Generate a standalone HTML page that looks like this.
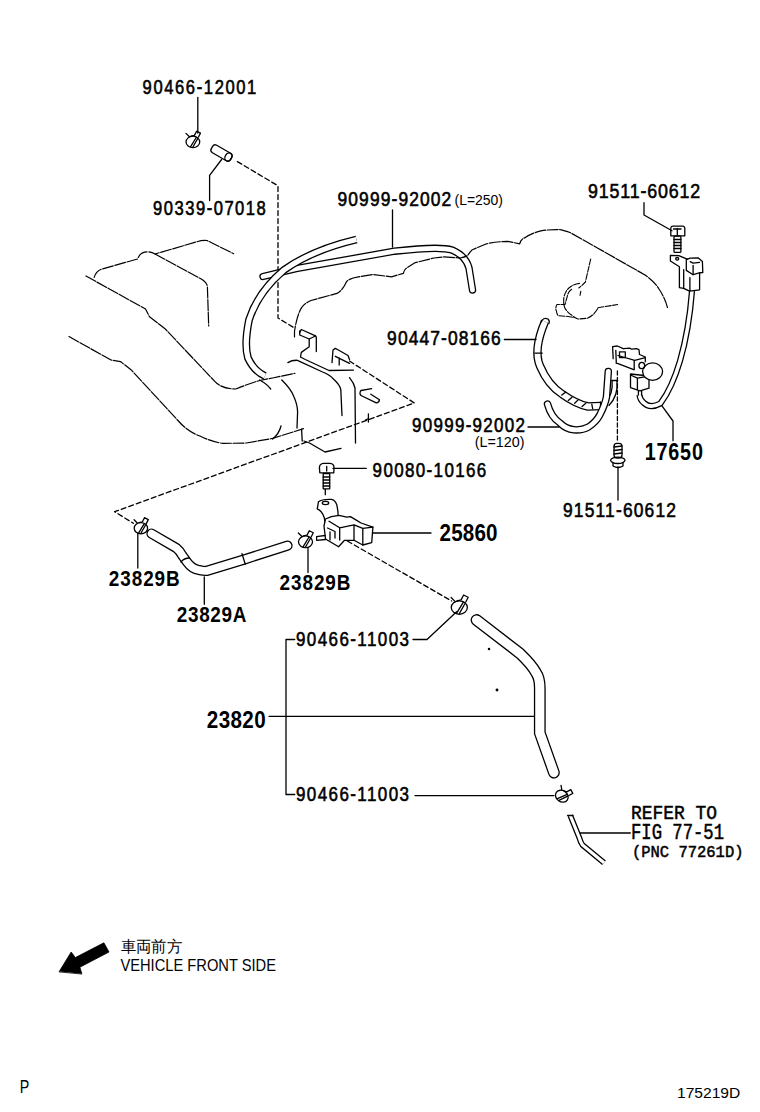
<!DOCTYPE html>
<html><head><meta charset="utf-8"><style>
html,body{margin:0;padding:0;background:#fff;width:760px;height:1112px;overflow:hidden}
svg{display:block}
.tn{font-family:"Liberation Sans",sans-serif;fill:#000;stroke:#000;stroke-width:0.6}
.tb{font-family:"Liberation Sans",sans-serif;font-weight:bold;fill:#000}
.m{font-family:"Liberation Mono",monospace;fill:#000;stroke:#000;stroke-width:0.5}
.s{font-family:"Liberation Sans",sans-serif;fill:#000}
</style></head><body>
<svg width="760" height="1112" viewBox="0 0 760 1112">
<rect width="760" height="1112" fill="#fff"/>
<g id="labels">
<text class="tn" transform="translate(142.6,93.5) scale(0.85,1)" x="0" y="0" font-size="19.5" textLength="133.76" lengthAdjust="spacing">90466-12001</text>
<text class="tn" transform="translate(153,214.5) scale(0.85,1)" x="0" y="0" font-size="19.5" textLength="132.71" lengthAdjust="spacing">90339-07018</text>
<text class="tn" transform="translate(337.5,205.5) scale(0.85,1)" x="0" y="0" font-size="20.5" textLength="133.88" lengthAdjust="spacing">90999-92002</text>
<text class="s" x="454.5" y="204.7" font-size="14.2" textLength="48.5" lengthAdjust="spacingAndGlyphs">(L=250)</text>
<text class="tn" transform="translate(587.9,197.9) scale(0.85,1)" x="0" y="0" font-size="21" textLength="132.12" lengthAdjust="spacing">91511-60612</text>
<text class="tn" transform="translate(387.1,344.8) scale(0.85,1)" x="0" y="0" font-size="20.5" textLength="133.76" lengthAdjust="spacing">90447-08166</text>
<text class="tn" transform="translate(412,431.7) scale(0.85,1)" x="0" y="0" font-size="20" textLength="132.94" lengthAdjust="spacing">90999-92002</text>
<text class="s" x="474.7" y="447" font-size="14.5" textLength="49.8" lengthAdjust="spacingAndGlyphs">(L=120)</text>
<text class="tb" transform="translate(644.7,459.8) scale(0.86,1)" x="0" y="0" font-size="23" textLength="67.67" lengthAdjust="spacing">17650</text>
<text class="tn" transform="translate(372.6,477.0) scale(0.85,1)" x="0" y="0" font-size="20" textLength="133.76" lengthAdjust="spacing">90080-10166</text>
<text class="tn" transform="translate(563,516.8) scale(0.85,1)" x="0" y="0" font-size="20.5" textLength="132.94" lengthAdjust="spacing">91511-60612</text>
<text class="tb" transform="translate(439.5,541.2) scale(0.86,1)" x="0" y="0" font-size="24" textLength="67.56" lengthAdjust="spacing">25860</text>
<text class="tb" transform="translate(108.8,585.8) scale(0.86,1)" x="0" y="0" font-size="22" textLength="82.44" lengthAdjust="spacing">23829B</text>
<text class="tb" transform="translate(279.5,590.3) scale(0.86,1)" x="0" y="0" font-size="22" textLength="82.56" lengthAdjust="spacing">23829B</text>
<text class="tb" transform="translate(176.8,622) scale(0.86,1)" x="0" y="0" font-size="22" textLength="80.81" lengthAdjust="spacing">23829A</text>
<text class="tn" transform="translate(296,645.8) scale(0.85,1)" x="0" y="0" font-size="20" textLength="132.94" lengthAdjust="spacing">90466-11003</text>
<text class="tb" transform="translate(206.8,727.7) scale(0.86,1)" x="0" y="0" font-size="24" textLength="68.49" lengthAdjust="spacing">23820</text>
<text class="tn" transform="translate(296,801.3) scale(0.85,1)" x="0" y="0" font-size="20" textLength="132.94" lengthAdjust="spacing">90466-11003</text>
<text class="m" x="631" y="819" font-size="20" textLength="86" lengthAdjust="spacingAndGlyphs">REFER TO</text>
<text class="m" x="631" y="838.7" font-size="21.5" textLength="93" lengthAdjust="spacingAndGlyphs">FIG 77-51</text>
<text class="m" x="632" y="857" font-size="17" textLength="111.5" lengthAdjust="spacingAndGlyphs">(PNC 77261D)</text>
<text class="s" x="120.6" y="952" font-size="16" textLength="61.4" lengthAdjust="spacingAndGlyphs">車両前方</text>
<text class="s" x="120.4" y="970.6" font-size="16.6" textLength="155.6" lengthAdjust="spacingAndGlyphs">VEHICLE FRONT SIDE</text>
<text class="s" x="19.7" y="1093.4" font-size="18" textLength="9.5" lengthAdjust="spacingAndGlyphs">P</text>
<text class="s" x="677" y="1098" font-size="15.5" textLength="63.3" lengthAdjust="spacingAndGlyphs">175219D</text>
</g>
<g id="shapes" fill="none" stroke="#000" stroke-width="1.3" stroke-linecap="round" stroke-linejoin="round">

<!-- top: clamp 90466-12001 and pipe 90339 -->
<line x1="197.8" y1="97.5" x2="197.8" y2="133"/>


<g transform="translate(221.5,153) rotate(30)">
<rect x="-11" y="-4.3" width="22" height="8.6" rx="3"/>
<ellipse cx="8" cy="0" rx="3.3" ry="4.3"/>
</g>
<polyline points="221.6,159.5 209.6,175.3 209.6,200.5"/>
<polyline stroke-dasharray="5,3" points="237.4,161.6 278,185.8 278,318 294.5,328"/>

<!-- left engine body -->
<path stroke-dasharray="11,1.6" stroke-width="1.2" d="M94.2,277.4 Q96,271 102,269 L137.6,259 Q140,252 147,251.8 Q152,252 155,254 L196.8,241.8 Q202,240 207,240.5 L233.7,253.7"/>
<path stroke-dasharray="11,1.6" stroke-width="1.2" d="M155,254 L200.8,278.7 Q207,282 207.4,287 L208.7,326"/>
<!-- long tube h2 (behind) -->
<!-- hose h1 L=250 -->
<path d="M263,276.5 L296,268.7 L394.5,251.2 Q440,246 452,250 Q466,256 469,268 L472.5,290" stroke-width="7.4" stroke-linecap="round" stroke-linejoin="round"/><path d="M263,276.5 L296,268.7 L394.5,251.2 Q440,246 452,250 Q466,256 469,268 L472.5,290" stroke="#fff" stroke-width="4.8" stroke-linecap="round" stroke-linejoin="round"/>
<path d="M356.5,239.5 Q312,250 284,270 Q258,292 249,320 Q244,345 248,358 Q254,371 265,376" stroke-width="7.8" stroke-linecap="butt" stroke-linejoin="round"/><path d="M356.5,239.5 Q312,250 284,270 Q258,292 249,320 Q244,345 248,358 Q254,371 265,376" stroke="#fff" stroke-width="5.2" stroke-linecap="butt" stroke-linejoin="round"/>
<path stroke-dasharray="11,1.6" stroke-width="1.2" d="M86,276 L145.5,309 L149.5,316.8 L165,328.7 L215,381.6 Q222,389 235.8,389 Q248,384 259.5,380.5 L272.6,378 L295,373.3"/>
<path stroke-dasharray="11,1.6" stroke-width="1.2" d="M69,336.6 L111,360 L120.5,361.6 L131,369.7 L178.4,421 Q188,432 200,436 Q212,442 223,443.4 L246.3,443 L272.6,438.4 L293.7,431.8 L303.5,428.6"/>
<!-- collar -->
<path d="M259.5,380 Q267,384 270.7,389"/>
<path d="M281,426 Q279,434 272.6,439"/>
<path d="M281.8,380 Q291,389 293.7,396.3 Q297.6,405 297.6,412 L297,428 M301.6,429.2 L302.2,441"/>
<!-- bracket -->
<path d="M299.7,332.6 L301.3,329.5 L315.5,335.8 L316.3,337.4 L316.3,351.6"/>
<path d="M299.7,331 L299.7,335 L309.2,339 L309.2,346.8 L301.3,352.4 L300.5,357 L305.3,359.5 L329,370.5 L353.4,370.2"/>
<path d="M309.2,339 L315.5,336"/>
<path d="M287.9,362.6 Q292,360 297.4,360.3 L322.6,372 Q330,375 333.7,379.2 Q340,385 340.8,389.5 L342,415.5"/>
<path d="M349.5,377.6 Q354,383 355,388 L355.5,443"/>
<path d="M332,362.6 L333,350 L335.3,348.4 L338.4,350 L348,355.5 L349.5,359.5"/>
<path d="M335.3,356.3 L349.5,363.4 M339.2,358 L339.2,365"/>
<path d="M361,390.5 L371.6,388.7 M360.5,391 Q359,395 362,396 L376.3,402.9 Q379,403 379.5,399.7 L370.8,394.2"/>
<path d="M304,441 L309.5,443 L325,452 L341,448.4"/>
<path d="M368.4,413.8 L368.4,422 M365.5,420 L368.4,418.5"/>
<polyline stroke-dasharray="5,3" points="349.5,361 414.3,403 114.6,511.7 133.4,523.3"/>
<!-- engine outline upper -->
<path stroke-dasharray="11,1.6" stroke-width="1.2" d="M294.5,337 L294.5,331.4 Q297,315 301.6,307.6 Q305,303 311,300.5 L337,293.4 Q343,290 346.6,281.6 Q350,278 358.4,276.8 L372.6,274.5 L391.6,276.8 L403.4,273.3 Q404,270 405.8,268.6 L415.3,262.6 L434,258 L443.9,256.8 L460.5,258 Q465,257 467.6,255.6 Q470,252 472.3,249.7 L486.6,243.8 Q497,241.5 507.9,241.4 L519.7,243.8 Q521,239 524.5,237.9 Q532,233 541,230.8 Q549,229.5 557.6,229.6 Q560,229 570,232.5 L597.4,247.9 L645,275 Q655,282 659,289 Q665,298 667.5,307.8"/>
<g stroke-width="1.1" stroke-dasharray="6,1.5">
<path d="M590.7,259 L585.4,282 L582,285.4 L578.8,288"/>
<path d="M579.5,283.4 Q575,284 571.6,286 Q567,289 566.3,291.3 Q563.5,296 563.7,300.5 Q563.5,305 565,308.4 Q568,313 571.6,315 Q575,318 578,319 L587.4,318.3 Q592,316 594,313.7 Q597,310 598,307.8 L617.6,304.5"/>
<path d="M580.8,291.3 L580,295.3 M571.6,289.3 Q568,292 567.6,295.3 L565,304.5 L557,304.5 Q555,308 556.4,311 Q557,315 558.4,315.7 L566.3,316.3 L574.2,317.6"/>
</g>
<!-- h9 extra tube -->
<path d="M614.5,380.5 Q616,395 607,404" stroke-width="6.2" stroke-linecap="butt"/><path d="M614.5,380.5 Q616,395 607,404" stroke="#fff" stroke-width="3.6" stroke-linecap="butt"/>
<path d="M611.6,380.5 L617.6,380.5"/>
<!-- h3 90447 -->
<path d="M545,321.5 Q533,350 540,366 Q548,385 562,394 Q576,404 588,406.5 L600.5,406" stroke-width="8.5" stroke-linecap="butt"/><path d="M545,321.5 Q533,350 540,366 Q548,385 562,394 Q576,404 588,406.5 L600.5,406" stroke="#fff" stroke-width="5.9" stroke-linecap="butt"/>
<path d="M541.3,322 Q543,317 548,319 Q550,321 548.9,323.5"/>
<path d="M535,353.2 L542.2,353.2"/>
<path d="M561.8,395 L565.5,392.2 M568.3,400.5 L572,397.3 M574.7,403.3 L578.4,399.6 M582,406.5 L585.8,403.3 M591.8,404.2 L592.7,408.8 M600.5,401.8 L600.5,410.2"/>
<!-- h4 L=120 -->
<path d="M547.5,404 Q551,417 560,423 Q566,429 573.8,429.8 Q582,430.5 588.5,427 Q596,422 599.6,415.3 Q605,405 606.5,396.8 L608.3,371.5" stroke-width="7.5" stroke-linecap="round"/><path d="M547.5,404 Q551,417 560,423 Q566,429 573.8,429.8 Q582,430.5 588.5,427 Q596,422 599.6,415.3 Q605,405 606.5,396.8 L608.3,371.5" stroke="#fff" stroke-width="4.9" stroke-linecap="round"/>
<!-- h5 wire -->
<path d="M692,291 Q689,330 680,361 Q672,388 660.5,403.4 Q650,409 644,403 Q640,400 639.5,395" stroke-width="6.2" stroke-linecap="butt"/><path d="M692,291 Q689,330 680,361 Q672,388 660.5,403.4 Q650,409 644,403 Q640,400 639.5,395" stroke="#fff" stroke-width="3.6" stroke-linecap="butt"/>
<!-- h6 23829A -->
<path d="M151.5,533.6 L176.3,548 Q180,551 182,555 L187,562 Q192,569 199,570 Q203,571 206.3,571 L244.2,559.5 L287.5,545.6" stroke-width="10.2" stroke-linecap="round" stroke-linejoin="round"/><path d="M151.5,533.6 L176.3,548 Q180,551 182,555 L187,562 Q192,569 199,570 Q203,571 206.3,571 L244.2,559.5 L287.5,545.6" stroke="#fff" stroke-width="7.6" stroke-linecap="round" stroke-linejoin="round"/>
<path d="M181,562 Q184,558 189.5,558 M242,553.7 L245.3,564.2"/>
<!-- h7 23820 -->
<path d="M476.5,620 L520,653.5 Q532,665 536,672.6 Q539.8,678 539.8,688 L539.8,732.9 L553.9,772.6" stroke-width="11.8" stroke-linecap="round" stroke-linejoin="round"/><path d="M476.5,620 L520,653.5 Q532,665 536,672.6 Q539.8,678 539.8,688 L539.8,732.9 L553.9,772.6" stroke="#fff" stroke-width="9.2" stroke-linecap="round" stroke-linejoin="round"/>
<!-- h8 refer -->
<path d="M570.3,815.5 L579.4,838 Q580.5,842 582.5,845 L604,862.7" stroke-width="5.8" stroke-linecap="butt" stroke-linejoin="miter"/><path d="M570.3,815.5 L579.4,838 Q580.5,842 582.5,845 L604,862.7" stroke="#fff" stroke-width="3.2" stroke-linecap="butt" stroke-linejoin="miter"/>
<path d="M567.6,815.5 L573,815.5"/>
<!-- leaders -->
<line x1="392.5" y1="210" x2="392.5" y2="247"/>
<line x1="504.3" y1="339.5" x2="536" y2="339.5"/>
<line x1="528" y1="427" x2="559" y2="427"/>
<polyline points="644,202.6 644,215 672,230.7"/>
<polyline points="661.8,405.7 673,421 673,440.7"/>
<line x1="618" y1="467" x2="618" y2="500"/>
<line x1="617.4" y1="371" x2="617.4" y2="442" stroke-dasharray="4,2.5"/>
<line x1="333" y1="468.4" x2="366.3" y2="468.4"/>
<line x1="372.6" y1="533" x2="431" y2="533"/>
<line x1="308" y1="547.4" x2="308" y2="572.6"/>
<line x1="137.8" y1="533.4" x2="137.8" y2="568"/>
<line x1="204.3" y1="576.8" x2="204.3" y2="604.3"/>
<polyline stroke-dasharray="5,3" points="347.4,541 451.6,601"/>
<polyline points="294.7,639.5 286,639.5 286,794.5 294.7,794.5"/>
<polyline points="413,639.5 427,639.5 456.6,611.8"/>
<line x1="269" y1="716.3" x2="534" y2="716.3"/>
<line x1="415" y1="795.6" x2="554" y2="795.6"/>
<line x1="580.5" y1="833" x2="630.3" y2="833"/>

<!-- top right bolt + sensor -->
<path d="M670.8,235.8 L670.8,228 Q671,226.1 673,226.1 L683,226.1 Q684.8,226.5 684.8,228 L684.8,235.8 Z"/>
<path d="M677.3,228.5 L677.3,235 M673.5,229 L681,229"/>
<rect x="674" y="236.2" width="6.9" height="16.2" rx="1"/>
<path d="M674,239.5 L680.9,239.5 M674,242.5 L680.9,242.5 M674,245.5 L680.9,245.5 M674,248.5 L680.9,248.5"/>
<path d="M670.4,261 L670.4,255.3 L678.7,255.6 L687.3,259.2 M670.4,261 L679.4,266.8 L679.4,287.6 L683.7,288.3"/>
<ellipse cx="677.2" cy="258.8" rx="1.5" ry="1.3"/>
<path d="M686.3,270.4 L686.3,259.6 L690.2,258.1 L698.1,257.8 L702.4,261.4 L702.8,272.5 L699.2,272.9 L693.1,274.7 Z"/>
<path d="M690.2,261.7 L693.1,263.2 L699.6,262.4 M693.1,265.3 L693.1,274.7"/>
<path d="M683.7,269.6 L683.7,288.3 L689.5,291.2 L699.6,289.8 L699.6,272.9 M689.9,277.6 L689.9,291.2"/>

<!-- VSV top right (17650) -->
<path d="M613.2,358.7 L612.6,346.6 L617.4,346 L623.2,348.7"/>
<path d="M615.8,350.3 L616.3,363.4"/>
<path d="M623.7,348.7 L630,348.2 L631.6,349.2 L636.3,348.7 L639,349.7 L639.5,354.5 L645.3,357 L645.3,361.8"/>
<path d="M617.4,363.4 L633.7,369.7"/>
<path d="M618,355.5 L634.7,360.3 L645.3,357.6 M634.2,360.3 L634.2,369.7"/>
<rect x="619.5" y="351.8" width="5.8" height="5.8"/>
<path d="M630.5,374 L649,376 L649,388.2 L640,390.8 L630.5,387.6 Z M631.6,375.5 L637.4,378.2 L646.3,376.6 M637.4,378.2 L637.4,389.7" fill="#fff"/>
<ellipse cx="652.6" cy="371.6" rx="10" ry="8.7" fill="#fff"/>
<ellipse cx="641.8" cy="365.5" rx="2.9" ry="3.2"/>
<path d="M638.4,390.8 L638.4,395 M641.6,390.8 L641.6,395"/>

<!-- bottom bolt 91511 -->
<rect x="614" y="443.4" width="8" height="14.6" rx="3"/>
<path d="M614,447 L622,446 M614,450.5 L622,449.5 M614,454 L622,453"/>
<ellipse cx="617.8" cy="460.3" rx="7.2" ry="3.2"/>
<path d="M613,462.5 L613,466 Q618,469 623,466 L623,462.5"/>

<!-- bolt 90080 -->
<path d="M319.8,472.8 L319.4,467.5 Q319.6,463.6 323.5,463.3 L330,463.3 Q334,463.6 334,467.5 L333.8,472.8 Z"/>
<line x1="326.7" y1="466.5" x2="326.7" y2="471"/>
<rect x="323.2" y="473.5" width="6.5" height="15.3"/>
<path d="M323.2,477 L329.7,477 M323.2,480 L329.7,480 M323.2,483 L329.7,483 M323.2,486 L329.7,486"/>
<line x1="325.3" y1="489.3" x2="325.3" y2="494.7"/>

<!-- VSV 25860 -->
<path d="M325.5,526 L324.3,517.8 Q322,510.7 317.2,508.9 L317.8,506 L318.4,501.8 Q322,499 331.4,499.4 Q335,500 336.8,504.7 L338,511.8 L338,515.4"/>
<ellipse cx="325.5" cy="503" rx="3.2" ry="1.6"/>
<path d="M325.5,519 L331.4,516.6 L339,515.4 L346.8,517.2 L350.4,516.6 L356.3,520.1 L361,523 L372.9,527.2 L371.7,542.6 L362.8,545 L354,540.3 L344.5,540.3 L338.6,546.8 L325.5,539 L324,526 Z" fill="#fff"/>
<path d="M329,521.3 L339.7,527.8 L354,524.9 L362.8,528.4 L372.9,527.2 M339.7,527.8 L339.7,540 M354,524.9 L354,540.3 M362.8,528.4 L362.8,545"/>
<path d="M316.6,536.7 L325,535.5 M316.6,536.7 L316.6,540.3 L325.5,539.5"/>
<path d="M327.5,528 L335,531.5 L335,538 M330,532 L330,540"/>

<!-- clamps -->
<g transform="translate(140.9,528.2) rotate(0) scale(1.0)" stroke-width="1.30"><ellipse cx="0" cy="0" rx="6.7" ry="5.6"/><path d="M-2.2,4.6 L3.4,-4.6 M0,5 L4.8,-3.4 M-6.8,-8.4 L-3.4,-5 M-1.9,-5.6 L1.5,-6.4 L3.6,-10.5 L7.4,-8.6 L5.4,-4.6"/></g>
<g transform="translate(305.5,541.8) rotate(0) scale(1.05)" stroke-width="1.24"><ellipse cx="0" cy="0" rx="6.7" ry="5.6"/><path d="M-2.2,4.6 L3.4,-4.6 M0,5 L4.8,-3.4 M-6.8,-8.4 L-3.4,-5 M-1.9,-5.6 L1.5,-6.4 L3.6,-10.5 L7.4,-8.6 L5.4,-4.6"/></g>
<g transform="translate(459.3,607.6) rotate(0) scale(1.2)" stroke-width="1.08"><ellipse cx="0" cy="0" rx="6.7" ry="5.6"/><path d="M-2.2,4.6 L3.4,-4.6 M0,5 L4.8,-3.4 M-6.8,-8.4 L-3.4,-5 M-1.9,-5.6 L1.5,-6.4 L3.6,-10.5 L7.4,-8.6 L5.4,-4.6"/></g>
<g transform="translate(561.8,796.2) rotate(35) scale(1.0)" stroke-width="1.30"><ellipse cx="0" cy="0" rx="6.7" ry="5.6"/><path d="M-2.2,4.6 L3.4,-4.6 M0,5 L4.8,-3.4 M-6.8,-8.4 L-3.4,-5 M-1.9,-5.6 L1.5,-6.4 L3.6,-10.5 L7.4,-8.6 L5.4,-4.6"/></g>
<g transform="translate(192.9,141.9) rotate(0) scale(1.02)" stroke-width="1.24"><ellipse cx="0" cy="0" rx="6.7" ry="5.6"/><path d="M-2.2,4.6 L3.4,-4.6 M0,5 L4.8,-3.4 M-6.8,-8.4 L-3.4,-5 M-1.9,-5.6 L1.5,-6.4 L3.6,-10.5 L7.4,-8.6 L5.4,-4.6"/></g>

<!-- arrow -->
<path d="M59.2,971.6 L71.2,952 L75.3,957.6 L103.9,942.8 L109,952 L79.9,967.2 L81.8,973.7 Z" fill="#000" stroke-width="0.8"/>
<!-- specks -->
<circle cx="497" cy="690" r="0.8" fill="#000"/>
<circle cx="489" cy="649" r="0.6" fill="#000"/>
</g>
</svg>
</body></html>
